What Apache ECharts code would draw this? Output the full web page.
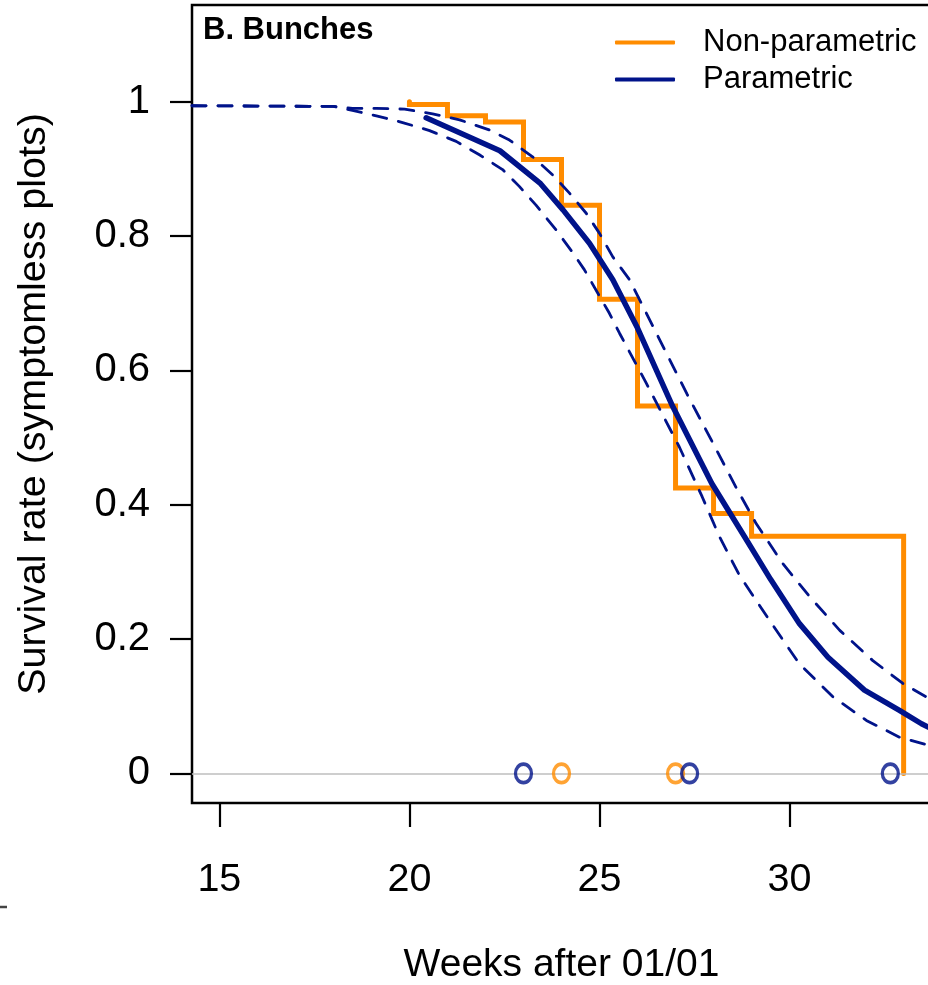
<!DOCTYPE html>
<html>
<head>
<meta charset="utf-8">
<script src="https://cdn.jsdelivr.net/npm/echarts@6/dist/echarts.min.js"></script>
<style>
html,body{margin:0;padding:0;background:#fff;}
#chart{width:928px;height:985px;}
</style>
</head>
<body>
<div id="chart"></div>
<script>
// ---- data ----
const panelTitle = 'B. Bunches';
const xTicks = [15, 20, 25, 30];
const yTicks = [0, 0.2, 0.4, 0.6, 0.8, 1];
const yTickLabels = ['0', '0.2', '0.4', '0.6', '0.8', '1'];

// Non-parametric (Kaplan-Meier) step curve
const kmWeeks = [20, 20, 21, 22, 23, 24, 25, 26, 27, 28, 29, 33];
const kmSurv  = [1.0, 0.996, 0.979, 0.970, 0.914, 0.846, 0.706, 0.547, 0.425, 0.387, 0.353, 0];

// Parametric fit
const parWeeks = [20.44, 22.38, 23.45, 24.04, 24.74, 25.35, 26.0, 26.92, 27.95, 28.82, 29.5, 30.26, 31.01, 31.97, 32.89, 33.47, 33.72];
const parSurv  = [0.976, 0.927, 0.878, 0.839, 0.789, 0.735, 0.663, 0.547, 0.432, 0.352, 0.289, 0.223, 0.173, 0.124, 0.094, 0.074, 0.067];

// Parametric confidence band
const upWeeks = [14.28, 18.0, 18.5, 19.13, 19.87, 20.61, 21.32, 22.1, 22.63, 23.24, 23.77, 24.21, 24.65, 25.0, 25.35, 25.79, 26.5, 27.3, 28.0, 28.6, 29.12, 29.82, 30.53, 31.32, 32.19, 32.98, 33.72];
const upSurv  = [0.994, 0.993, 0.990, 0.990, 0.989, 0.982, 0.973, 0.958, 0.943, 0.918, 0.891, 0.864, 0.834, 0.804, 0.769, 0.735, 0.655, 0.565, 0.49, 0.425, 0.372, 0.3125, 0.263, 0.213, 0.168, 0.134, 0.11];
const loWeeks = [14.28, 18.0, 18.5, 19.13, 19.82, 20.53, 21.23, 21.84, 22.45, 22.89, 23.33, 23.86, 24.3, 24.6, 25.26, 25.53, 26.23, 27.1, 27.7, 28.16, 28.68, 29.47, 30.26, 31.14, 32.02, 32.89, 33.72];
const loSurv  = [0.994, 0.993, 0.987, 0.979, 0.969, 0.957, 0.941, 0.921, 0.899, 0.874, 0.846, 0.809, 0.775, 0.75, 0.685, 0.655, 0.581, 0.486, 0.412, 0.352, 0.295, 0.228, 0.163, 0.114, 0.079, 0.054, 0.041];

// censoring marks ("o") on the zero line
const npCensWeeks = [24, 27];
const pCensWeeks  = [23, 27.37, 32.65];

// ---- styling ----
const ORANGE = '#FF8C00';
const NAVY = '#00138A';
const FONT = "'Liberation Sans', Arial, Helvetica, sans-serif";
const zip = (xs, ys) => xs.map((x, i) => [x, ys[i]]);

const chart = echarts.init(document.getElementById('chart'), null, {renderer: 'canvas'});
chart.setOption({
  animation: false,
  backgroundColor: '#fff',
  title: {
    text: panelTitle, left: 198, top: 10,
    textStyle: {fontFamily: FONT, fontSize: 31, fontWeight: 'bold', color: '#000'}
  },
  legend: {
    orient: 'vertical', left: 610, top: 19, padding: 5, itemGap: 0,
    itemWidth: 60, itemHeight: 4,
    textStyle: {fontFamily: FONT, fontSize: 31, color: '#000', lineHeight: 37, padding: [0, 0, 0, 23]},
    data: [{name: 'Non-parametric', icon: 'roundRect'}, {name: 'Parametric', icon: 'roundRect'}]
  },
  grid: {
    left: 192, top: 5, width: 739, height: 798,
    show: true, borderColor: '#000', borderWidth: 2.5, backgroundColor: 'transparent',
    containLabel: false, outerBoundsMode: 'none'
  },
  xAxis: {
    type: 'value', min: 14.28, max: 33.72,
    axisLine: {show: false, onZero: false},
    splitLine: {show: false},
    axisTick: {show: true, customValues: xTicks, length: 24, lineStyle: {color: '#000', width: 2.2}},
    axisLabel: {customValues: xTicks, margin: 57, fontFamily: FONT, fontSize: 39.5, color: '#000'},
    name: 'Weeks after 01/01', nameLocation: 'middle', nameGap: 143,
    nameTextStyle: {fontFamily: FONT, fontSize: 39, color: '#000'}
  },
  yAxis: {
    type: 'value', min: -0.044, max: 1.144,
    axisLine: {show: false, onZero: false},
    splitLine: {show: false},
    axisTick: {show: true, customValues: yTicks, length: 22, lineStyle: {color: '#000', width: 2.2}},
    axisLabel: {customValues: yTicks, margin: 42, fontFamily: FONT, fontSize: 40, color: '#000',
      formatter: v => { const i = yTicks.findIndex(t => Math.abs(t - v) < 1e-9); return i >= 0 ? yTickLabels[i] : ''; }},
    name: 'Survival rate (symptomless plots)', nameLocation: 'middle', nameGap: 138,
    nameTextStyle: {fontFamily: FONT, fontSize: 39.5, color: '#000'}
  },
  graphic: [
    {type: 'line', shape: {x1: 0, y1: 907, x2: 7, y2: 907}, style: {stroke: '#444', lineWidth: 2.5}}
  ],
  series: [
    {
      name: 'zero', type: 'line', data: [], silent: true, z: 1,
      markLine: {silent: true, symbol: ['none', 'none'], label: {show: false},
        lineStyle: {color: '#bebebe', width: 1.5, type: 'solid'}, data: [{yAxis: 0}]}
    },
    {
      name: 'Non-parametric', type: 'line', step: 'end', showSymbol: false, z: 2,
      data: zip(kmWeeks, kmSurv),
      itemStyle: {color: ORANGE},
      lineStyle: {color: ORANGE, width: 5, cap: 'round', join: 'miter'}
    },
    {
      name: 'Parametric upper', type: 'line', showSymbol: false, z: 3,
      data: zip(upWeeks, upSurv),
      itemStyle: {color: NAVY},
      lineStyle: {color: NAVY, width: 2.8, type: [14, 12], cap: 'round'}
    },
    {
      name: 'Parametric lower', type: 'line', showSymbol: false, z: 3,
      data: zip(loWeeks, loSurv),
      itemStyle: {color: NAVY},
      lineStyle: {color: NAVY, width: 2.8, type: [14, 12], cap: 'round'}
    },
    {
      name: 'Parametric', type: 'line', showSymbol: false, z: 4,
      data: zip(parWeeks, parSurv),
      itemStyle: {color: NAVY},
      lineStyle: {color: NAVY, width: 5.5, cap: 'round', join: 'round'}
    },
    {
      name: 'Non-parametric censored', type: 'scatter', z: 5,
      data: npCensWeeks.map(w => [w, 0]),
      symbol: 'circle', symbolSize: [16, 18.5],
      itemStyle: {color: 'rgba(0,0,0,0)', borderColor: ORANGE, borderWidth: 3.5}
    },
    {
      name: 'Parametric censored', type: 'scatter', z: 6,
      data: pCensWeeks.map(w => [w, 0]),
      symbol: 'circle', symbolSize: [16, 18.5],
      itemStyle: {color: 'rgba(0,0,0,0)', borderColor: NAVY, borderWidth: 3.5}
    }
  ]
});
</script>
</body>
</html>
